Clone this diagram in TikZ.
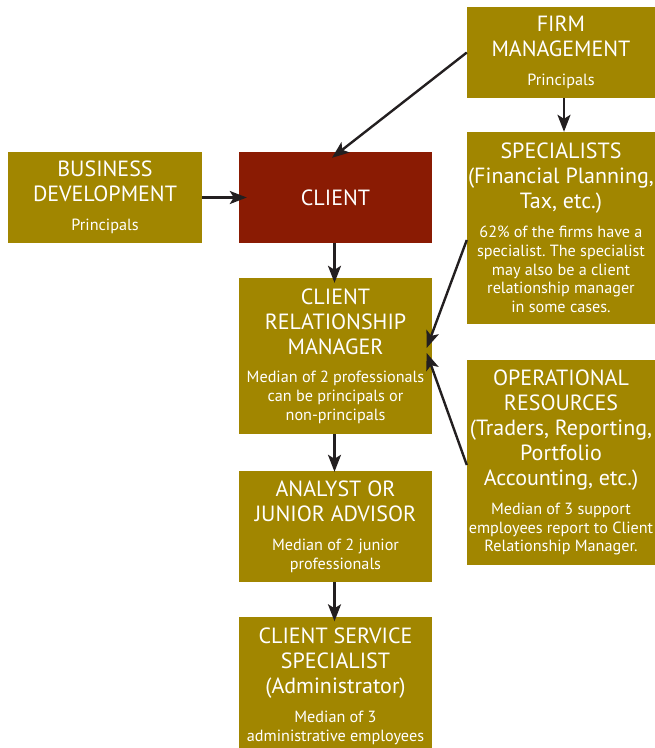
\documentclass[tikz,border=0pt]{standalone}
\usepackage{fontspec}
\setmainfont{PT Sans}
\usetikzlibrary{arrows.meta,calc}
\definecolor{boxolive}{HTML}{A18600}
\definecolor{clientred}{HTML}{8A1B03}
\definecolor{arrowink}{HTML}{231F20}
\newcommand{\headfont}{\fontsize{22}{25}\selectfont}
\newcommand{\notefont}{\fontsize{16.2}{18.8}\selectfont}
\newcommand{\notegap}{\par\vspace{10pt}\notefont}

\begin{document}
\frenchspacing
\begin{tikzpicture}[x=1pt,y=-1pt,
  card/.style={fill=boxolive, text=white, inner xsep=0pt, inner ysep=0pt,
               align=flush center, font=\headfont},
  cardtext/.style={text=white, inner sep=0pt, align=flush center, font=\headfont},
  link/.style={draw=arrowink, line width=2.4pt,
               -{Stealth[length=17pt,width=13pt,inset=4pt]}},
]
\useasboundingbox (0,0) rectangle (655,748);

% boxes
\node[card, text width=188pt, minimum height=91pt] (firm) at (561,52.5)
  {FIRM\\MANAGEMENT\notegap Principals\par};
\node[card, text width=188pt, minimum height=192pt] (spec) at (561,228)
  {SPECIALISTS\\(Financial~Planning,\\Tax, etc.)\notegap
   62\% of the firms have a\\specialist. The specialist\\may also be a client\\relationship manager\\in some cases.\par};
\node[card, text width=188pt, minimum height=205pt] (ops) at (561,462.5)
  {OPERATIONAL\\RESOURCES\\(Traders,~Reporting,\\Portfolio\\Accounting, etc.)\notegap
   Median of 3 support\\employees report to Client\\Relationship Manager.\par};
\node[card, text width=194pt, minimum height=91pt] (bizdev) at (105,197.5)
  {BUSINESS\\DEVELOPMENT\notegap Principals\par};
\node[card, fill=clientred, text width=193pt, minimum height=91pt] (client) at (335.5,197.5)
  {CLIENT};
\node[card, text width=193pt, minimum height=156pt] (crm) at (335.5,356)
  {CLIENT\\RELATIONSHIP\\MANAGER\notegap
   Median of 2 professionals\\can be principals or\\non-principals\par};
\node[card, text width=193pt, minimum height=111pt] (analyst) at (335.5,526.5)
  {ANALYST OR\\JUNIOR ADVISOR\notegap Median of 2 junior\\professionals\par};
% bottom box: its text sits a little below the box centre
\node[card, minimum width=193pt, minimum height=131pt] (css) at (335.5,682.5) {};
\node[cardtext, text width=193pt] (csstext) at ($(css.center)+(0,4)$)
  {CLIENT SERVICE\\SPECIALIST\\(Administrator)\notegap
   Median of 3\\administrative employees\par};

% connectors
\draw[link] (firm.west) -- ($(client.north)+(-3.5,6)$);
\draw[link] ($(firm.south)+(3,0)$) -- ($(spec.north)+(3,0)$);
\draw[link] (bizdev.east) -- ($(client.west)+(8,0)$);
\draw[link] ($(client.south)+(-1,0)$) -- ($(crm.north)+(-1,5)$);
\draw[link] ($(spec.west)+(0,12)$) -- ($(crm.east)+(-5.5,-8)$);
\draw[link] ($(ops.west)+(0,2.5)$) -- ($(crm.east)+(-5.5,-3)$);
\draw[link] ($(crm.south)+(-1,0)$) -- ($(analyst.north)+(-1,1)$);
\draw[link] ($(analyst.south)+(-1,0)$) -- ($(css.north)+(-1,4.5)$);
\end{tikzpicture}
\end{document}
